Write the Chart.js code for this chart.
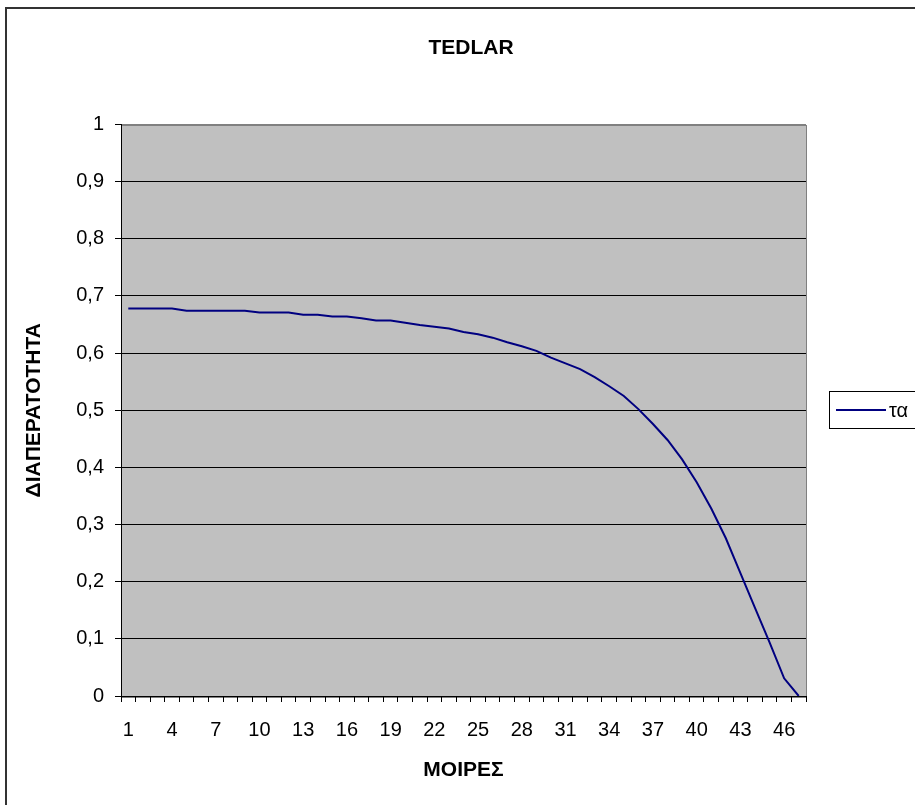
<!DOCTYPE html>
<html>
<head>
<meta charset="utf-8">
<script src="https://cdn.jsdelivr.net/npm/chart.js@4/dist/chart.umd.min.js"></script>
<style>
  body { margin: 0; background: #fff; }
  canvas { display: block; }
</style>
</head>
<body>
<canvas id="myChart" width="915" height="805"></canvas>
<script>
// μοίρες (κατηγορίες 1..47)
const moires = [];
for (let i = 1; i <= 47; i++) moires.push(String(i));

// διαπερατότητα τα, διαβασμένη από το γράφημα
const ta = [
  0.678, 0.678, 0.678, 0.678, 0.674, 0.674, 0.674, 0.674, 0.674, 0.671,
  0.671, 0.671, 0.667, 0.667, 0.664, 0.664, 0.661, 0.657, 0.657, 0.653,
  0.649, 0.646, 0.643, 0.637, 0.633, 0.627, 0.619, 0.612, 0.604, 0.592,
  0.582, 0.572, 0.558, 0.542, 0.525, 0.502, 0.476, 0.448, 0.414, 0.374,
  0.328, 0.276, 0.215, 0.154, 0.094, 0.031, 0
];

const titleText = 'TEDLAR';
const xTitle = 'ΜΟΙΡΕΣ';
const yTitle = 'ΔΙΑΠΕΡΑΤΟΤΗΤΑ';
const seriesName = 'τα';

const FONT = "'Liberation Sans', Arial, sans-serif";
const lineColor = '#000080';

// φόντο, πλαίσιο και υπόμνημα
const frame = {
  id: 'frame',
  beforeDraw(chart) {
    const c = chart.ctx, a = chart.chartArea;
    c.save();
    c.fillStyle = '#fff';
    c.fillRect(0, 0, chart.width, chart.height);
    c.strokeStyle = '#333';
    c.lineWidth = 2;
    c.strokeRect(6, 8, 2000, 2000);
    c.fillStyle = '#c0c0c0';
    c.fillRect(a.left, a.top, a.right - a.left, a.bottom - a.top);
    c.strokeStyle = '#808080';
    c.lineWidth = 1;
    c.strokeRect(Math.round(a.left) + 0.5, Math.round(a.top) + 0.5,
      Math.round(a.right - a.left), Math.round(a.bottom - a.top));
    c.restore();
  },
  afterDraw(chart) {
    const c = chart.ctx;
    c.save();
    c.strokeStyle = '#000';
    c.lineWidth = 1;
    c.strokeRect(829.5, 391.5, 200, 37);
    c.strokeStyle = lineColor;
    c.lineWidth = 2;
    c.beginPath();
    c.moveTo(836, 410);
    c.lineTo(886, 410);
    c.stroke();
    c.fillStyle = '#000';
    c.font = '20px ' + FONT;
    c.textBaseline = 'middle';
    c.fillText(seriesName, 889, 411);
    c.restore();
  }
};

Chart.defaults.color = '#000';
Chart.defaults.font.family = FONT;

const ctx = document.getElementById('myChart').getContext('2d');
const myChart = new Chart(ctx, {
  type: 'line',
  data: {
    labels: moires,
    datasets: [{
      label: seriesName,
      data: ta,
      borderColor: lineColor,
      backgroundColor: lineColor,
      borderWidth: 2,
      pointRadius: 0,
      tension: 0,
      fill: false
    }]
  },
  options: {
    responsive: false,
    animation: false,
    layout: { padding: { left: 27, right: 0, top: 0, bottom: 0 } },
    plugins: {
      legend: { display: false },
      tooltip: { enabled: false },
      title: {
        display: true,
        text: titleText,
        font: { size: 21, weight: 'bold' },
        padding: { top: 35.4, bottom: 63.9 }
      }
    },
    scales: {
      x: {
        offset: true,
        grid: {
          offset: true,
          drawOnChartArea: false,
          drawTicks: true,
          tickLength: 6,
          color: '#000'
        },
        border: { color: '#000', width: 1 },
        ticks: {
          autoSkip: false,
          maxRotation: 0,
          padding: 16,
          font: { size: 20 },
          callback: function (value, index) {
            return index % 3 === 0 ? this.getLabelForValue(value) : '';
          }
        },
        title: {
          display: true,
          text: xTitle,
          font: { size: 21, weight: 'bold' },
          padding: { top: 0, bottom: 22 }
        },
        afterFit(s) { s.height = 109; }
      },
      y: {
        min: 0,
        max: 1,
        ticks: {
          stepSize: 0.1,
          padding: 11,
          font: { size: 20 },
          callback: v => String(Math.round(v * 10) / 10).replace('.', ',')
        },
        grid: {
          color: c => (c.tick && c.tick.value === 1 ? '#808080' : '#000'),
          tickColor: '#000',
          tickLength: 6
        },
        border: { color: '#000', width: 1 },
        title: {
          display: true,
          text: yTitle,
          font: { size: 21, weight: 'bold' },
          padding: { top: -5.6, bottom: 0 }
        },
        afterFit(s) { s.width = 94; }
      },
      yR: {
        axis: 'y',
        type: 'linear',
        position: 'right',
        display: true,
        grid: { display: false },
        border: { display: false },
        ticks: { display: false },
        afterFit(s) { s.width = 109; }
      }
    }
  },
  plugins: [frame]
});
</script>
</body>
</html>
